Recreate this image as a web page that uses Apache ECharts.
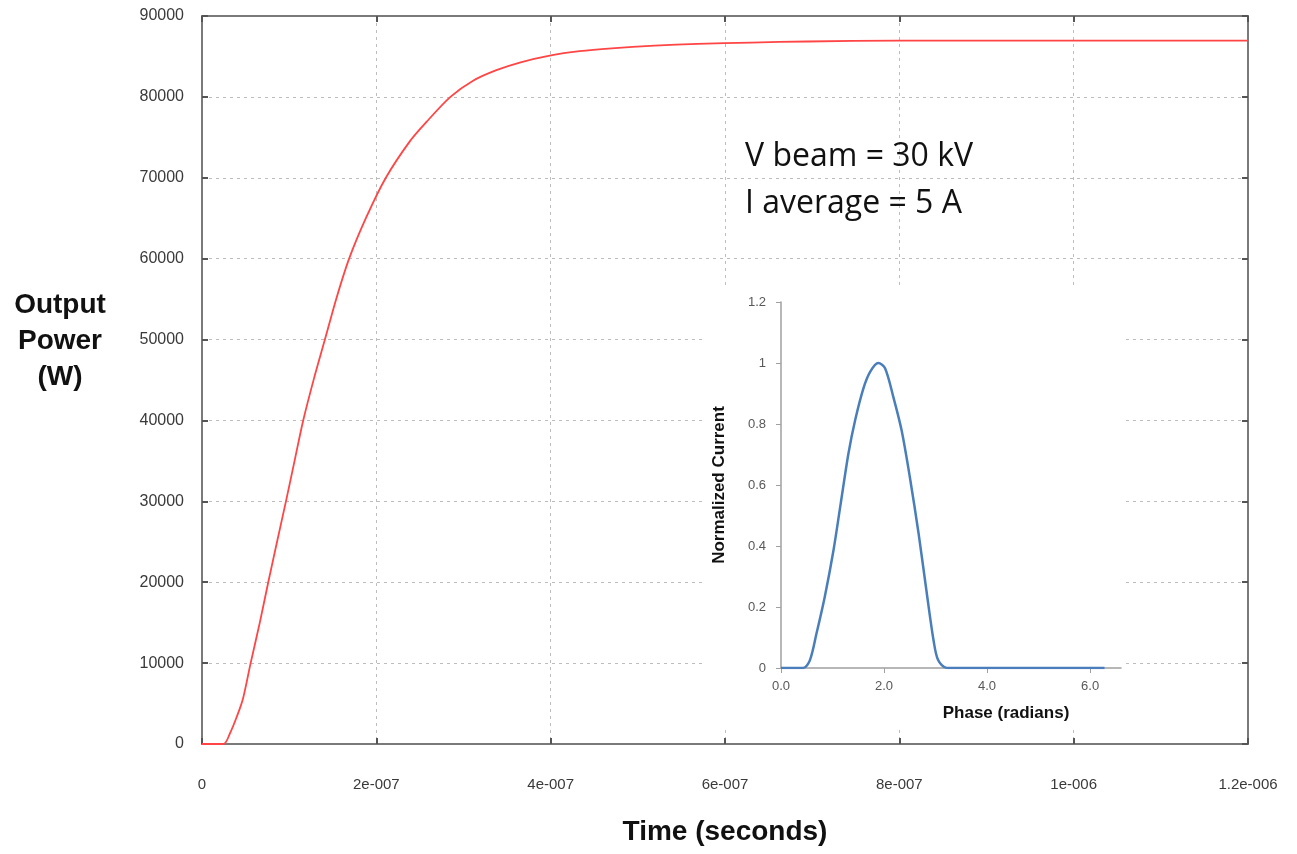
<!DOCTYPE html>
<html>
<head>
<meta charset="utf-8">
<script src="https://cdn.jsdelivr.net/npm/echarts@6/dist/echarts.min.js"></script>
<style>
html,body{margin:0;padding:0;background:#fff;}
#chart{width:1297px;height:854px;}
</style>
</head>
<body>
<div id="chart"></div>
<script>
// main curve: time (s) vs output power (W)
const timeSec = [0, 2.45e-8, 3.2e-8, 4.0e-8, 4.7e-8, 5.58e-8, 6.65e-8, 7.6e-8, 8.63e-8, 9.63e-8,
  1.062e-7, 1.161e-7, 1.285e-7, 1.41e-7, 1.545e-7, 1.688e-7, 1.88e-7, 2.109e-7, 2.384e-7, 2.575e-7,
  2.85e-7, 3.11e-7, 3.377e-7, 3.645e-7, 3.989e-7, 4.332e-7, 4.699e-7, 5.192e-7, 5.685e-7, 6.3e-7,
  6.946e-7, 8e-7, 1.2e-6]
const powerW = [0, 0, 1300, 3400, 5600, 10000, 15100, 20000, 25100, 30000,
  35000, 40000, 45200, 50000, 55200, 60000, 65000, 70000, 74500, 76900,
  80000, 82000, 83300, 84250, 85100, 85650, 86000, 86330, 86550, 86720,
  86850, 86950, 86950]
const xTickLabels = ['0', '2e-007', '4e-007', '6e-007', '8e-007', '1e-006', '1.2e-006']

// inset: beam current shape
const phaseRad = [0, 0.43, 0.56, 0.69, 0.85, 1.02, 1.15, 1.31, 1.44, 1.60, 1.73, 1.89, 2.02, 2.18,
  2.34, 2.50, 2.67, 2.83, 2.96, 3.05, 3.22, 6.28]
const normCurrent = [0, 0, 0.025, 0.114, 0.234, 0.387, 0.529, 0.704, 0.813, 0.917, 0.971, 1.0, 0.983, 0.889,
  0.780, 0.627, 0.442, 0.245, 0.092, 0.026, 0, 0]
const insetXTicks = [0, 2, 4, 6]

const FONT = "'Liberation Sans', Arial, sans-serif"
const mychart = echarts.init(document.getElementById('chart'))

const frameAxis = { //上边/右边框
  show: true,
  axisLine: { show: true, onZero: false, lineStyle: { color: '#7a7a7a', width: 2 } },
  axisTick: { show: true, inside: true, length: 6, lineStyle: { color: '#555', width: 2 } },
  axisLabel: { show: false },
  splitLine: { show: false }
}

const option = {
  backgroundColor: '#fff',
  animation: false,
  grid: [
    { left: 202, top: 16, width: 1046, height: 728 },
    { left: 781, top: 302, width: 340, height: 366 }
  ],
  xAxis: [{
    type: 'value', gridIndex: 0, min: 0, max: 1.2e-6, interval: 2e-7,
    axisLine: { onZero: false, lineStyle: { color: '#7a7a7a', width: 2 } },
    axisTick: { inside: true, length: 6, lineStyle: { color: '#555', width: 2 } },
    axisLabel: {
      margin: 33, fontSize: 15, color: '#3a3a3a', fontFamily: FONT,
      formatter: v => xTickLabels[Math.round(v / 2e-7)]
    },
    splitLine: { show: true, lineStyle: { color: '#bdbdbd', type: [3, 4], width: 1 } },
    name: 'Time (seconds)', nameLocation: 'middle', nameGap: 74,
    nameTextStyle: { fontSize: 28, fontWeight: 'bold', color: '#111', fontFamily: FONT }
  }, Object.assign({
    type: 'value', gridIndex: 0, position: 'top', min: 0, max: 1.2e-6, interval: 2e-7
  }, frameAxis), {
    type: 'value', gridIndex: 1, min: 0, max: 6.6, interval: 2, z: 10,
    axisLine: { onZero: false, lineStyle: { color: '#a0a0a0', width: 1.5 } },
    axisTick: { show: true, length: 5, customValues: insetXTicks, lineStyle: { color: '#a0a0a0' } },
    axisLabel: {
      margin: 12, fontSize: 13, color: '#595959', fontFamily: FONT,
      customValues: insetXTicks, formatter: v => v.toFixed(1)
    },
    splitLine: { show: false }
  }],
  yAxis: [{
    type: 'value', gridIndex: 0, min: 0, max: 90000, interval: 10000,
    axisLine: { show: true, onZero: false, lineStyle: { color: '#7a7a7a', width: 2 } },
    axisTick: { show: true, inside: true, length: 6, lineStyle: { color: '#555', width: 2 } },
    axisLabel: { margin: 18, fontSize: 16, color: '#3a3a3a', fontFamily: FONT, formatter: v => String(v) },
    splitLine: { show: true, lineStyle: { color: '#bdbdbd', type: [3, 4], width: 1 } }
  }, Object.assign({
    type: 'value', gridIndex: 0, position: 'right', min: 0, max: 90000, interval: 10000
  }, frameAxis), {
    type: 'value', gridIndex: 1, min: 0, max: 1.2, interval: 0.2, z: 10,
    axisLine: { show: true, onZero: false, lineStyle: { color: '#a0a0a0', width: 1.5 } },
    axisTick: { show: true, length: 5, lineStyle: { color: '#a0a0a0' } },
    axisLabel: { margin: 15, fontSize: 13, color: '#595959', fontFamily: FONT },
    splitLine: { show: false },
    name: 'Normalized Current', nameLocation: 'middle', nameGap: 53,
    nameTextStyle: { fontSize: 17, fontWeight: 'bold', color: '#111', fontFamily: FONT }
  }],
  graphic: [
    { type: 'rect', z: 3, shape: { x: 705, y: 288, width: 418, height: 439 }, style: { fill: '#fff' } },
    { type: 'text', z: 20, left: 745, top: 133,
      style: { text: 'V beam = 30 kV\nI average = 5 A', fontSize: 32, lineHeight: 47,
        fontFamily: "'Open Sans', 'Noto Sans', sans-serif", fill: '#111' } },
    { type: 'text', z: 20, x: 60, y: 341,
      style: { text: 'Output\nPower\n(W)', fontSize: 28, fontWeight: 'bold', lineHeight: 36,
        align: 'center', verticalAlign: 'middle', fontFamily: FONT, fill: '#111' } },
    { type: 'text', z: 20, x: 1006, y: 713,
      style: { text: 'Phase (radians)', fontSize: 17, fontWeight: 'bold',
        align: 'center', verticalAlign: 'middle', fontFamily: FONT, fill: '#111' } }
  ],
  series: [{
    name: 'Output Power', type: 'line', xAxisIndex: 0, yAxisIndex: 0,
    smooth: 0.3, symbol: 'none',
    lineStyle: { color: '#ff4545', width: 1.8 },
    data: timeSec.map((t, i) => [t, powerW[i]])
  }, {
    name: 'Normalized Current', type: 'line', xAxisIndex: 2, yAxisIndex: 2, z: 11,
    smooth: 0.3, symbol: 'none',
    lineStyle: { color: '#4a7ebb', width: 2.5 },
    data: phaseRad.map((p, i) => [p, normCurrent[i]])
  }]
}
mychart.setOption(option)
</script>
</body>
</html>
